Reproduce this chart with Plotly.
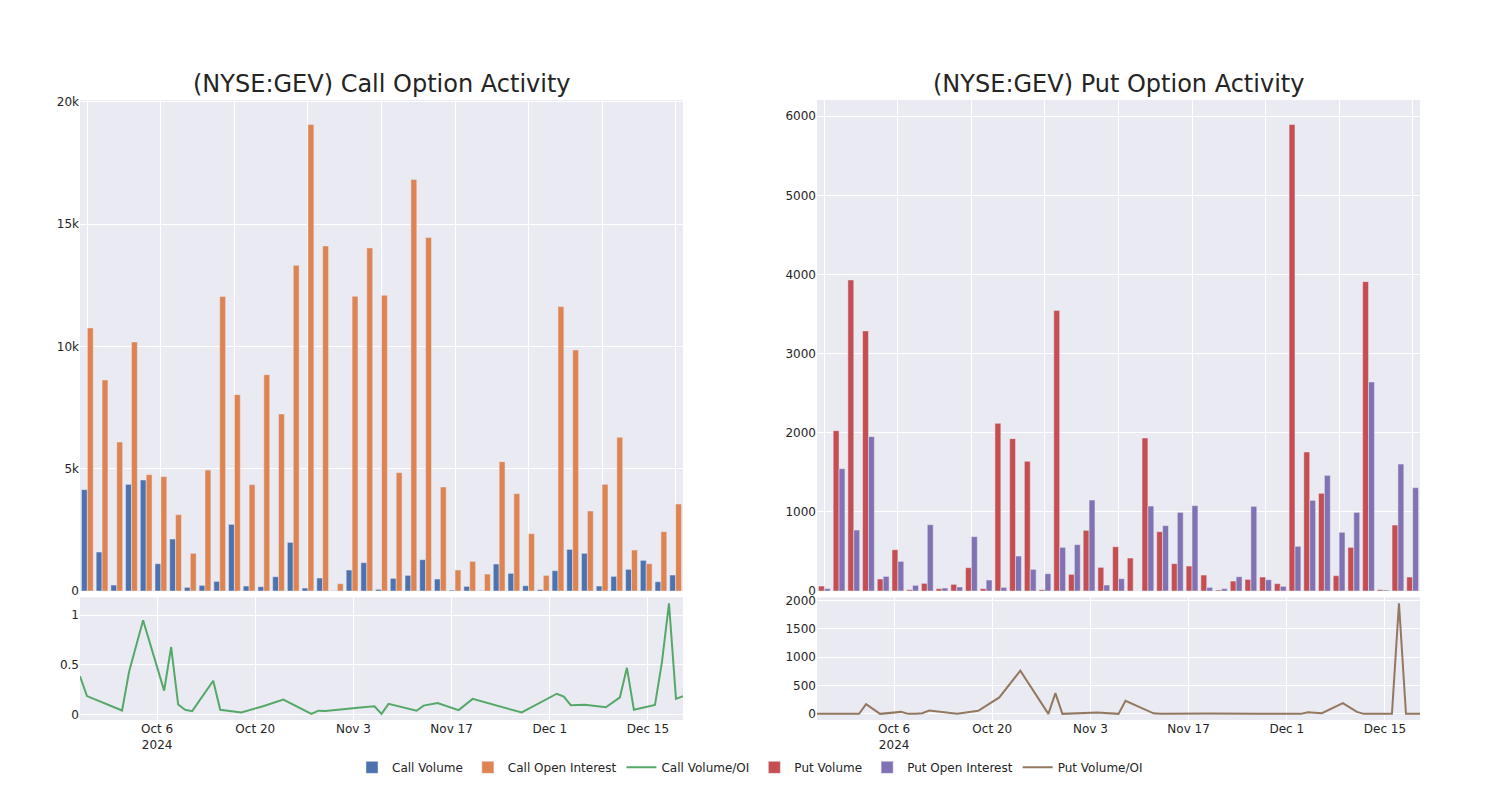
import plotly.graph_objects as go
from plotly.subplots import make_subplots

dates = ["2024-09-25", "2024-09-26", "2024-10-01", "2024-10-02", "2024-10-04",
         "2024-10-07", "2024-10-08", "2024-10-09", "2024-10-10", "2024-10-11",
         "2024-10-14", "2024-10-15", "2024-10-18", "2024-10-21", "2024-10-24",
         "2024-10-28", "2024-10-29", "2024-10-30", "2024-11-04", "2024-11-06",
         "2024-11-07", "2024-11-08", "2024-11-12", "2024-11-13", "2024-11-15",
         "2024-11-18", "2024-11-20", "2024-11-27", "2024-12-02", "2024-12-03",
         "2024-12-04", "2024-12-06", "2024-12-09", "2024-12-11", "2024-12-12",
         "2024-12-13", "2024-12-16", "2024-12-17", "2024-12-18", "2024-12-19",
         "2024-12-20"]

call_volume = [4145, 1595, 245, 4363, 4540, 1118, 2127, 150, 232, 395,
               2727, 205, 177, 586, 1990, 123, 532, 10, 859, 1159,
               70, 518, 641, 1282, 491, 38, 191, 14, 1104, 723,
               218, 63, 832, 1704, 1541, 205, 600, 886, 1254, 382,
               654]
call_oi = [10757, 8630, 6094, 10184, 4758, 4676, 3122, 1541, 4949, 12038,
           8030, 4349, 8848, 7239, 13320, 19073, 14110, 300, 12052, 14029,
           12093, 4840, 16823, 14451, 4254, 859, 1213, 695, 5290, 3981,
           2345, 641, 11629, 9857, 3272, 4363, 6285, 1677, 1118, 2427,
           3558]
call_ratio = [0.385, 0.185, 0.04, 0.43, 0.95, 0.24, 0.68, 0.1, 0.047, 0.033,
              0.34, 0.047, 0.02, 0.081, 0.15, 0.006, 0.038, 0.034, 0.071, 0.083,
              0.006, 0.107, 0.038, 0.089, 0.115, 0.044, 0.157, 0.02, 0.209, 0.18,
              0.093, 0.098, 0.072, 0.173, 0.47, 0.047, 0.095, 0.53, 1.12, 0.157,
              0.184]

put_volume = [63, 2027, 3931, 3287, 152, 522, 17, 97, 30, 84,
              295, 30, 2119, 1926, 1639, 17, 3544, 211, 767, 299,
              560, 417, 1934, 750, 346, 316, 202, 13, 126, 147,
              177, 93, 5895, 1757, 1235, 194, 552, 3910, 17, 834,
              177]
put_oi = [30, 1546, 771, 1951, 185, 375, 72, 838, 38, 51,
          687, 139, 46, 442, 274, 219, 552, 586, 1150, 76,
          156, 0, 1074, 826, 994, 1079, 46, 30, 181, 1070,
          143, 59, 565, 1146, 1462, 742, 994, 2642, 13, 1605,
          1306]
put_ratio = [0, 0, 0, 171, 0, 35, 0, 0, 10, 60,
             10, 0, 53, 290, 761, 0, 366, 0, 24, 0,
             0, 230, 10, 0, 5, 5, 5, 3, 10, 0,
             30, 12, 190, 35, 0, 0, 0, 1948, 0, 0,
             0]

fig = make_subplots(
    rows=2, cols=2,
    row_heights=[0.8, 0.2],
    vertical_spacing=0.01,
    horizontal_spacing=0.1,
    subplot_titles=("(NYSE:GEV) Call Option Activity", "(NYSE:GEV) Put Option Activity"),
)

fig.add_trace(go.Bar(x=dates, y=call_volume, name="Call Volume"), row=1, col=1)
fig.add_trace(go.Bar(x=dates, y=call_oi, name="Call Open Interest"), row=1, col=1)
fig.add_trace(go.Scatter(x=dates, y=call_ratio, mode="lines", name="Call Volume/OI"), row=2, col=1)
fig.add_trace(go.Bar(x=dates, y=put_volume, name="Put Volume"), row=1, col=2)
fig.add_trace(go.Bar(x=dates, y=put_oi, name="Put Open Interest"), row=1, col=2)
fig.add_trace(go.Scatter(x=dates, y=put_ratio, mode="lines", name="Put Volume/OI"), row=2, col=2)

for c in (1, 2):
    fig.update_xaxes(type="category", showticklabels=False, tickmode="linear",
                     tick0=0, dtick=5, row=1, col=c)
    fig.update_xaxes(type="date", row=2, col=c)

fig.update_annotations(font_size=24)

fig.update_layout(
    template="seaborn",
    width=1500,
    height=800,
    font=dict(family="DejaVu Sans"),
    margin=dict(l=80, r=80, t=100, b=80),
    legend=dict(orientation="h", x=0.5, xanchor="center", y=-0.053, yanchor="top"),
)

fig.write_html("out.html", config={"displayModeBar": False},
               post_script="document.body.style.margin='0';")
